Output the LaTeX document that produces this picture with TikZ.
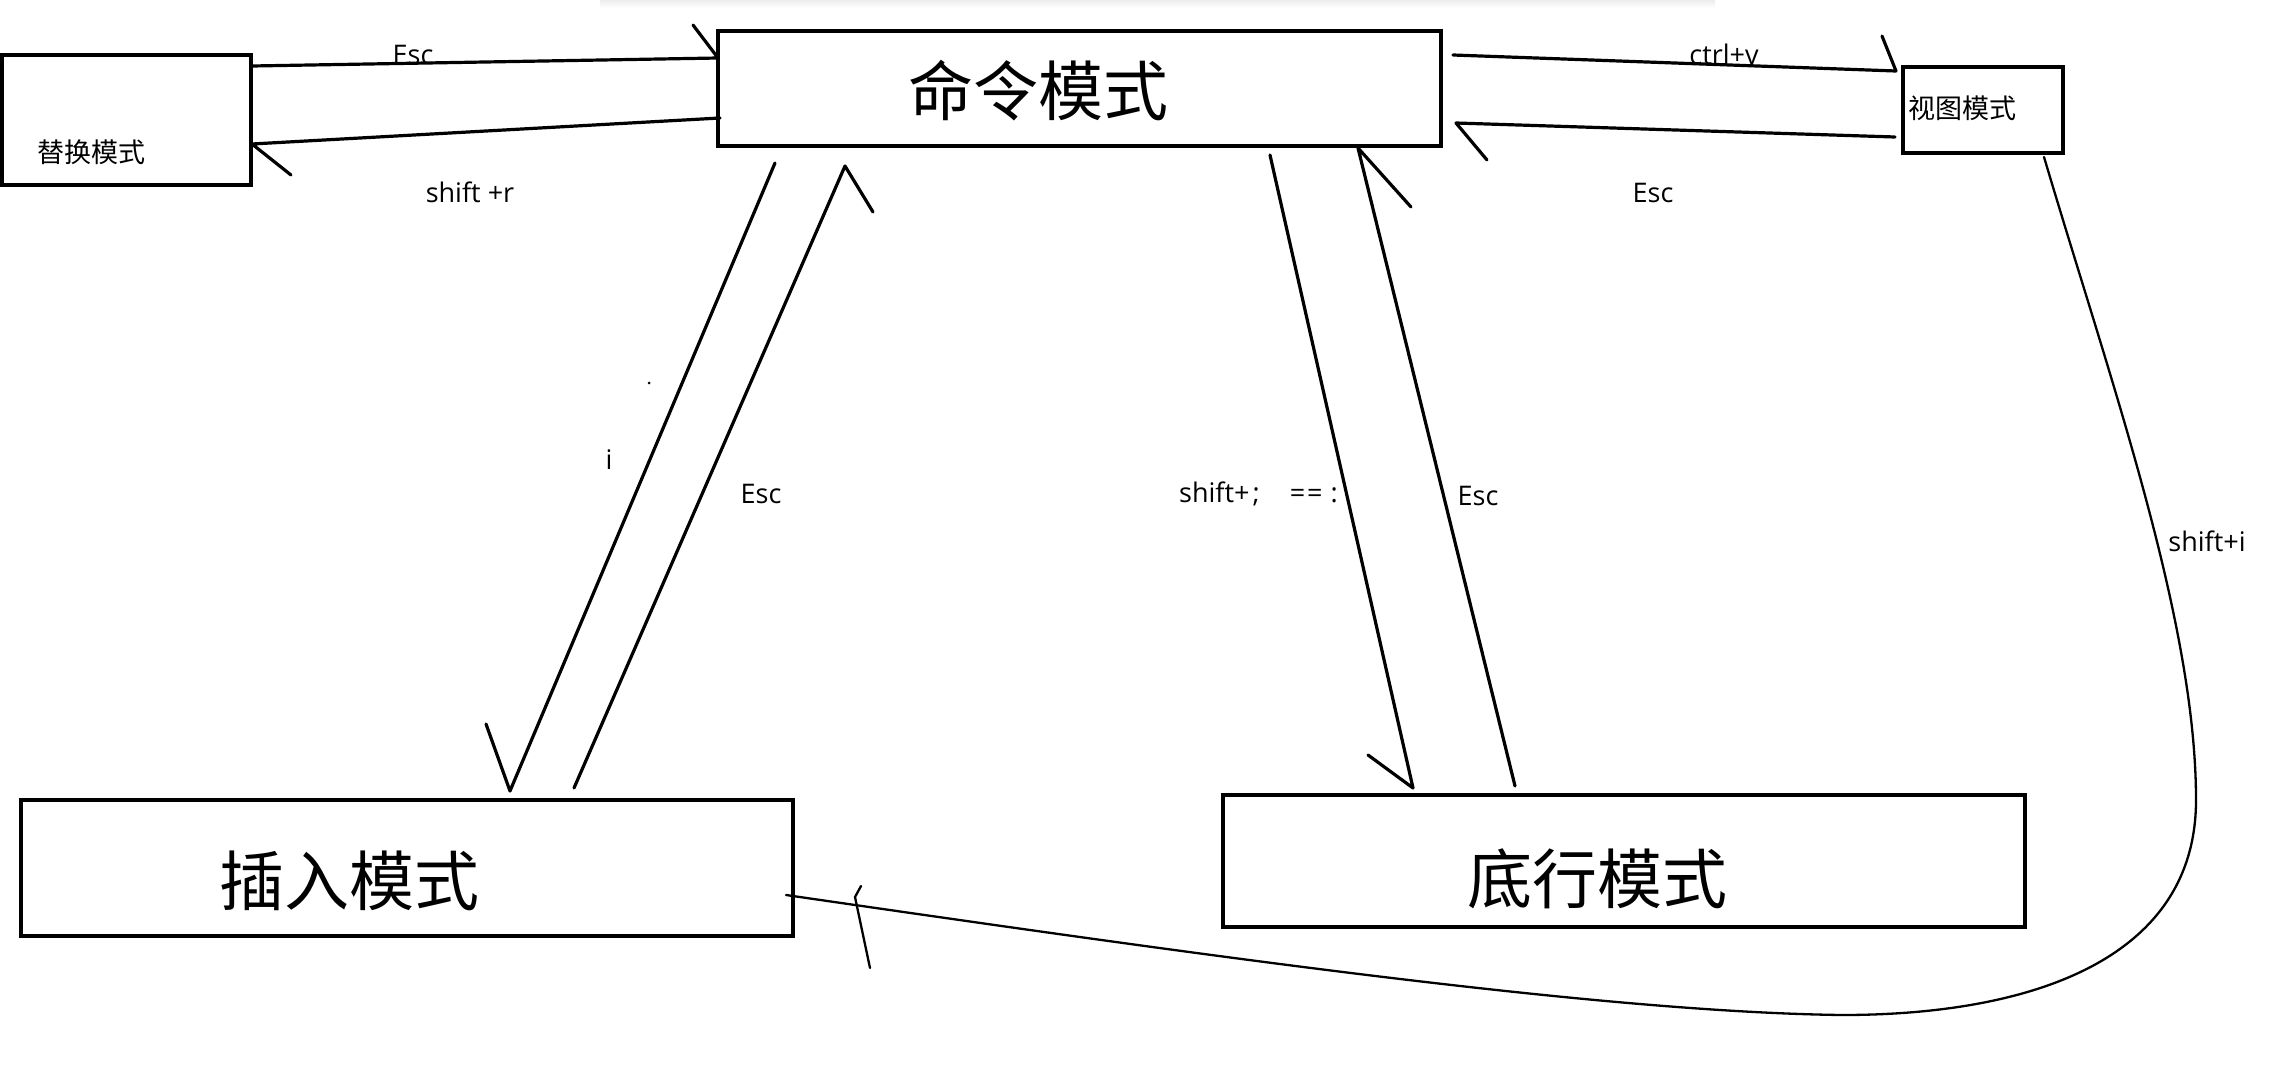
\documentclass[tikz,border=0pt]{standalone}
\usepackage{fontspec}
\setmainfont{Open Sans}
\newfontfamily\cjkfont{Noto Sans CJK SC}
\usetikzlibrary{calc}
\begin{document}
\begin{tikzpicture}[x=1pt,y=-1pt,
  modebox/.style={draw, line width=3.8pt, inner sep=0pt, outer sep=0pt},
  conn/.style={line width=3.2pt, line cap=round, line join=round},
  thinconn/.style={line width=2.3pt, line cap=round, line join=round},
  lbl/.style={font=\fontsize{27}{30}\selectfont, inner sep=0pt},
  bigcjk/.style={font=\cjkfont\fontsize{65}{70}\selectfont, inner sep=0pt},
  smallcjk/.style={font=\cjkfont\fontsize{27}{30}\selectfont, inner sep=0pt}]
\fill[white] (0,0) rectangle (2283,1071);
\useasboundingbox (0,0) rectangle (2283,1071);
\shade[top color=black!7, bottom color=white] (600,0) rectangle (1715,8);

% boxes
\node[modebox, minimum width=249pt, minimum height=130pt] (rep) at (126.5,120) {};
\node[modebox, minimum width=723pt, minimum height=115pt] (cmd) at (1079.5,88.5) {};
\node[modebox, minimum width=160pt, minimum height=86pt] (view) at (1983,110) {};
\node[modebox, minimum width=772pt, minimum height=136pt] (ins) at (407,868) {};
\node[modebox, minimum width=802pt, minimum height=132pt] (bot) at (1624,861) {};

% box texts
\node[smallcjk] (rept) at (91.5,152) {替换模式};
\node[bigcjk] (cmdt) at (1038,91) {命令模式};
\node[smallcjk] (viewt) at (1962,108) {视图模式};
\node[bigcjk] (inst) at (349,881) {插入模式};
\node[bigcjk] (bott) at (1597,879) {底行模式};

% labels
\begin{scope}
\clip (380,30) rectangle (450,62);
\node[lbl] (l1) at (413,55) {Esc};
\end{scope}
\node[lbl] (l2) at (470,192) {shift +r};
\node[lbl] (l3) at (1724,54) {ctrl+v};
\node[lbl] (l4) at (1653,193) {Esc};
\node[lbl] (l5) at (609,460) {i};
\node[lbl] (l6) at (761,494) {Esc};
\node[lbl, anchor=east] (l7) at (1338,494) {shift+\hspace{3pt};\hspace{30pt}=\hspace{2pt}=\hspace{8pt}:};
\node[lbl] (l8) at (1478,496) {Esc};
\node[lbl] (l9) at (2207,541) {shift+i};
\node[circle, fill, inner sep=0pt, minimum size=3pt] (dot) at (649,383) {};

% connectors
\draw[conn] ($(rep.north east)+(1,11)$) -- ($(cmd.north west)+(0,27)$) -- ++(-25,-33);
\draw[conn] ($(cmd.south west)+(2,-28)$) -- ($(rep.south east)+(1,-41)$) -- ++(39,31);
\draw[conn] ($(cmd.north east)+(12,24)$) -- ($(view.north west)+(-7,4)$) -- ++(-14,-35);
\draw[conn] ($(view.west)+(-8,27)$) -- ($(cmd.east)+(15,34.5)$) -- ++(31,37);
\draw[conn] ($(cmd.south west)+(57,17)$) -- ($(ins.north west)+(489,-9)$) -- ++(-24,-67);
\draw[conn] ($(ins.north west)+(553,-12)$) -- ($(cmd.south west)+(127,20)$) -- ++(28,46);
\draw[conn] ($(cmd.south east)+(-171,9)$) -- ($(bot.north west)+(190,-7)$) -- ++(-45,-33);
\draw[conn] ($(bot.north west)+(292,-9)$) -- ($(cmd.south east)+(-83,2)$) -- ++(53,59);
\draw[thinconn] ($(view.south east)+(-19,4)$) .. controls (2110,380) and (2196,620) .. (2196,800)
  .. controls (2196,960) and (2030,1015) .. (1842,1015)
  .. controls (1600,1012) and (1200,955) .. ($(ins.east)+(-7,27)$);
\draw[thinconn] ($(ins.east)+(68,18)$) -- ++(-6,11) -- ++(15,71);
\end{tikzpicture}
\end{document}
